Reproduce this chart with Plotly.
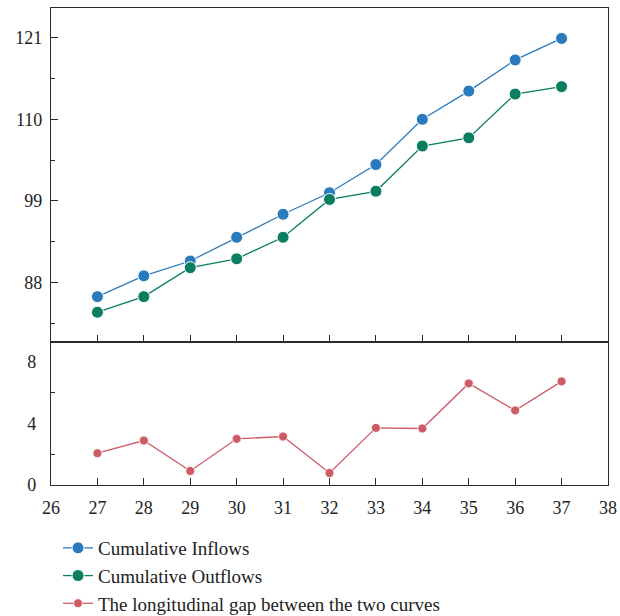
import plotly.graph_objects as go

# Time index (x axis)
periods = [27, 28, 29, 30, 31, 32, 33, 34, 35, 36, 37]

# Cumulative curves (upper panel)
cumulative_inflows = [86.1, 88.9, 90.9, 94.1, 97.2, 100.1, 103.9, 110.0, 113.8, 118.0, 120.9]
cumulative_outflows = [84.0, 86.1, 90.0, 91.2, 94.1, 99.2, 100.3, 106.4, 107.5, 113.4, 114.4]

# Gap between the two curves (lower panel)
longitudinal_gap = [2.06, 2.88, 0.91, 2.99, 3.14, 0.78, 3.70, 3.66, 6.58, 4.83, 6.71]

# Axis tick settings
upper_tickvals = [88, 99, 110, 121]
lower_tickvals = [0, 4, 8]
x_tickvals = list(range(26, 39))

BLUE = "#2a7bbd"
GREEN = "#0b7e61"
RED = "#cd5b66"
AXIS = "#2b2b2b"
FONT = "Liberation Serif"

fig = go.Figure()

fig.add_trace(go.Scatter(
    x=periods, y=cumulative_inflows, name="Cumulative Inflows",
    mode="lines+markers", xaxis="x2", yaxis="y2",
    line=dict(color=BLUE, width=1.3),
    marker=dict(color=BLUE, size=12, line=dict(color="white", width=1)),
))
fig.add_trace(go.Scatter(
    x=periods, y=cumulative_outflows, name="Cumulative Outflows",
    mode="lines+markers", xaxis="x2", yaxis="y2",
    line=dict(color=GREEN, width=1.3),
    marker=dict(color=GREEN, size=12, line=dict(color="white", width=1)),
))
fig.add_trace(go.Scatter(
    x=periods, y=longitudinal_gap, name="The longitudinal gap between the two curves",
    mode="lines+markers", xaxis="x", yaxis="y",
    line=dict(color=RED, width=1.3),
    marker=dict(color=RED, size=9, line=dict(color="white", width=0.8)),
))

axis_common = dict(
    showline=True, linecolor=AXIS, linewidth=1.3, mirror=True,
    showgrid=False, zeroline=False, automargin=False,
    tickfont=dict(family=FONT, size=18, color="#222"),
)

fig.update_layout(
    width=620, height=616,
    margin=dict(l=51, r=12, t=8, b=131, autoexpand=False),
    paper_bgcolor="white", plot_bgcolor="white",
    font=dict(family=FONT, size=18, color="#222"),
    showlegend=True,
    legend=dict(
        xref="paper", yref="container",
        x=0.0126, y=0.1412, xanchor="left", yanchor="top",
        font=dict(family=FONT, size=19, color="#222"),
        bgcolor="rgba(0,0,0,0)", tracegroupgap=0, itemwidth=30,
    ),
    # lower panel
    xaxis=dict(
        **axis_common, domain=[0, 1], anchor="y", range=[26, 38],
        tickmode="array", tickvals=x_tickvals, ticks="inside", ticklen=7,
        tickcolor=AXIS, ticklabelstandoff=6,
    ),
    yaxis=dict(
        **axis_common, domain=[0, 0.3], anchor="x", range=[0, 9.27],
        tickmode="array", tickvals=lower_tickvals, ticks="",
        ticklabelstandoff=10,
        minor=dict(ticks="inside", tickmode="array", tickvals=[2, 6],
                   ticklen=4, tickcolor=AXIS),
    ),
    # upper panel
    xaxis2=dict(
        **axis_common, domain=[0, 1], anchor="y2", range=[26, 38],
        tickmode="array", tickvals=x_tickvals, ticks="inside", ticklen=7,
        tickcolor=AXIS, showticklabels=False,
    ),
    yaxis2=dict(
        **axis_common, domain=[0.3, 1], anchor="x2", range=[80, 125],
        tickmode="array", tickvals=upper_tickvals, ticks="inside", ticklen=7,
        tickcolor=AXIS, ticklabelstandoff=4,
        minor=dict(ticks="inside", tickmode="array",
                   tickvals=[82.5, 93.5, 104.5, 115.5], ticklen=4, tickcolor=AXIS),
    ),
)

fig.write_html("out.html")
